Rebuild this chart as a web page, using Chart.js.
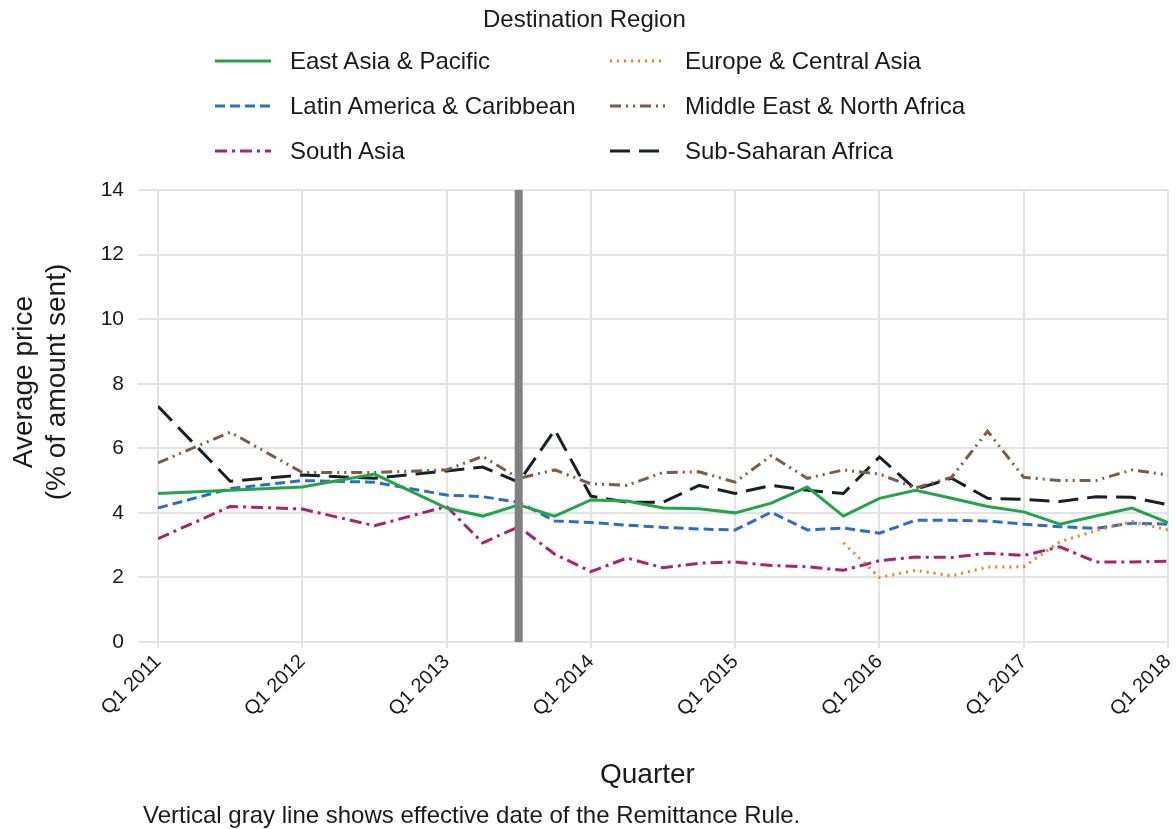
<!DOCTYPE html>
<html>
<head>
<meta charset="utf-8">
<script src="https://cdn.jsdelivr.net/npm/chart.js@4"></script>
<style>
  body { margin: 0; background: #fff; font-family: "Liberation Sans", Arial, sans-serif; color: #1a1a1a; }
  #wrap { position: relative; width: 1176px; height: 829px; }
  #chart { position: absolute; left: 0; top: 0; }
  #legend-title { position: absolute; top: 5px; left: 483px; font-size: 24px; white-space: nowrap; }
  .leg { position: absolute; font-size: 24px; height: 30px; line-height: 30px; white-space: nowrap; }
  .leg svg { position: absolute; left: 0; top: 12px; }
  .leg span { position: absolute; left: 75px; top: 0; }
  #ytitle { position: absolute; left: 39px; top: 382px; width: 300px; font-size: 28px; line-height: 33px;
    text-align: center; transform: translate(-50%, -50%) rotate(-90deg); }
  #xtitle { position: absolute; left: 600px; top: 758px; font-size: 28px; white-space: nowrap; }
  #caption { position: absolute; left: 143px; top: 801px; font-size: 24px; white-space: nowrap; }
</style>
</head>
<body>
<div id="wrap">
  <canvas id="chart" width="1176" height="829"></canvas>
  <div id="legend-title">Destination Region</div>
  <div id="legend"></div>
  <div id="ytitle">Average price<br>(% of amount sent)</div>
  <div id="xtitle">Quarter</div>
  <div id="caption">Vertical gray line shows effective date of the Remittance Rule.</div>
</div>
<script>
// Data points (quarters), tick labels and series values
const quarters = ['Q1 2011', 'Q3 2011', 'Q1 2012', 'Q3 2012', 'Q1 2013', 'Q2 2013', 'Q3 2013', 'Q4 2013',
  'Q1 2014', 'Q2 2014', 'Q3 2014', 'Q4 2014', 'Q1 2015', 'Q2 2015', 'Q3 2015', 'Q4 2015',
  'Q1 2016', 'Q2 2016', 'Q3 2016', 'Q4 2016', 'Q1 2017', 'Q2 2017', 'Q3 2017', 'Q4 2017', 'Q1 2018'];
const tickLabels = ['Q1 2011', 'Q1 2012', 'Q1 2013', 'Q1 2014', 'Q1 2015', 'Q1 2016', 'Q1 2017', 'Q1 2018'];
const ruleQuarter = 'Q3 2013';

const eastAsia = [4.6, 4.7, 4.8, 5.2, 4.15, 3.9, 4.25, 3.9, 4.4, 4.37, 4.15, 4.13, 4.0, 4.3, 4.8, 3.9,
  4.45, 4.7, 4.45, 4.2, 4.03, 3.65, 3.9, 4.15, 3.7];
const europe = [null, null, null, null, null, null, null, null, null, null, null, null, null, null, null, 3.07,
  2.0, 2.22, 2.05, 2.32, 2.33, 3.1, 3.45, 3.73, 3.47];
const latinAmerica = [4.15, 4.75, 5.0, 4.95, 4.55, 4.5, 4.33, 3.75, 3.7, 3.62, 3.55, 3.5, 3.47, 4.02, 3.47, 3.53,
  3.37, 3.77, 3.77, 3.75, 3.65, 3.57, 3.52, 3.68, 3.65];
const middleEast = [5.55, 6.5, 5.25, 5.25, 5.33, 5.75, 5.07, 5.33, 4.9, 4.85, 5.25, 5.27, 4.95, 5.77, 5.07, 5.33,
  5.2, 4.77, 5.1, 6.53, 5.1, 5.0, 5.0, 5.33, 5.17];
const southAsia = [3.2, 4.2, 4.12, 3.6, 4.2, 3.07, 3.57, 2.72, 2.18, 2.6, 2.3, 2.44, 2.48, 2.37, 2.33, 2.22,
  2.52, 2.63, 2.62, 2.75, 2.68, 2.95, 2.48, 2.48, 2.5];
const subSaharan = [7.3, 4.98, 5.17, 5.07, 5.3, 5.42, 4.95, 6.57, 4.52, 4.33, 4.33, 4.85, 4.6, 4.85, 4.7, 4.6,
  5.73, 4.73, 5.07, 4.45, 4.42, 4.35, 4.5, 4.48, 4.25];

const series = [
  { name: 'East Asia & Pacific', values: eastAsia, color: '#22a44a', dash: [] },
  { name: 'Europe & Central Asia', values: europe, color: '#f07f22', dash: [2, 5] },
  { name: 'Latin America & Caribbean', values: latinAmerica, color: '#2e6dc4', dash: [10, 5] },
  { name: 'Middle East & North Africa', values: middleEast, color: '#7b5c48', dash: [11, 5, 2, 5, 2, 5] },
  { name: 'South Asia', values: southAsia, color: '#aa2372', dash: [12, 5, 3, 5] },
  { name: 'Sub-Saharan Africa', values: subSaharan, color: '#1a1f25', dash: [20, 9] }
];

// 'Q3 2011' -> quarters since Q1 2011
function quarterIndex(label) {
  const [q, y] = label.split(' ');
  return (parseInt(y) - 2011) * 4 + parseInt(q.slice(1)) - 1;
}

// legend (two columns, three rows)
const legend = document.getElementById('legend');
series.forEach((s, i) => {
  const col = i % 2, row = Math.floor(i / 2);
  const div = document.createElement('div');
  div.className = 'leg';
  div.style.left = (col ? 610 : 215) + 'px';
  div.style.top = (46 + row * 45) + 'px';
  div.innerHTML = `<svg width="56" height="6"><line x1="0" y1="3" x2="56" y2="3" stroke="${s.color}"
    stroke-width="3" stroke-dasharray="${s.dash.join(' ')}"/></svg><span>${s.name}</span>`;
  legend.appendChild(div);
});

const ruleLine = {
  id: 'ruleLine',
  afterDatasetsDraw(chart) {
    const { ctx, chartArea, scales } = chart;
    const x = scales.x.getPixelForValue(quarterIndex(ruleQuarter));
    ctx.save();
    ctx.strokeStyle = '#808080';
    ctx.lineWidth = 8;
    ctx.beginPath();
    ctx.moveTo(x, chartArea.top);
    ctx.lineTo(x, chartArea.bottom);
    ctx.stroke();
    ctx.restore();
  }
};

Chart.defaults.font.family = '"Liberation Sans", Arial, sans-serif';
Chart.defaults.color = '#1a1a1a';

new Chart(document.getElementById('chart'), {
  type: 'line',
  data: {
    datasets: series.map(s => ({
      label: s.name,
      data: quarters.map((q, i) => ({ x: quarterIndex(q), y: s.values[i] })),
      borderColor: s.color,
      borderDash: s.dash,
      borderWidth: 3,
      pointRadius: 0,
      tension: 0,
      spanGaps: false
    }))
  },
  options: {
    responsive: false,
    animation: false,
    layout: { padding: { top: 190, right: 8, bottom: 0, left: 0 } },
    plugins: { legend: { display: false }, tooltip: { enabled: false } },
    scales: {
      x: {
        type: 'linear',
        min: quarterIndex(tickLabels[0]),
        max: quarterIndex(tickLabels[tickLabels.length - 1]),
        afterBuildTicks: (scale) => {
          scale.ticks = tickLabels.map(t => ({ value: quarterIndex(t) }));
        },
        afterFit: (scale) => {
          scale.height = 829 - 642;
          scale.paddingRight = 0;
          scale.paddingLeft = 0;
        },
        ticks: {
          callback: (v) => tickLabels.find(t => quarterIndex(t) === v),
          minRotation: 45, maxRotation: 45,
          font: { size: 20 }, color: '#1a1a1a', padding: 2
        },
        grid: { color: '#e3e3e3', lineWidth: 2, tickLength: 6 },
        border: { display: false }
      },
      y: {
        min: 0, max: 14,
        afterFit: (scale) => { scale.width = 158; },
        ticks: { stepSize: 2, font: { size: 21 }, color: '#1a1a1a', padding: 14 },
        grid: { color: '#e3e3e3', lineWidth: 2, tickLength: 20 },
        border: { display: false }
      }
    }
  },
  plugins: [ruleLine]
});
</script>
</body>
</html>
